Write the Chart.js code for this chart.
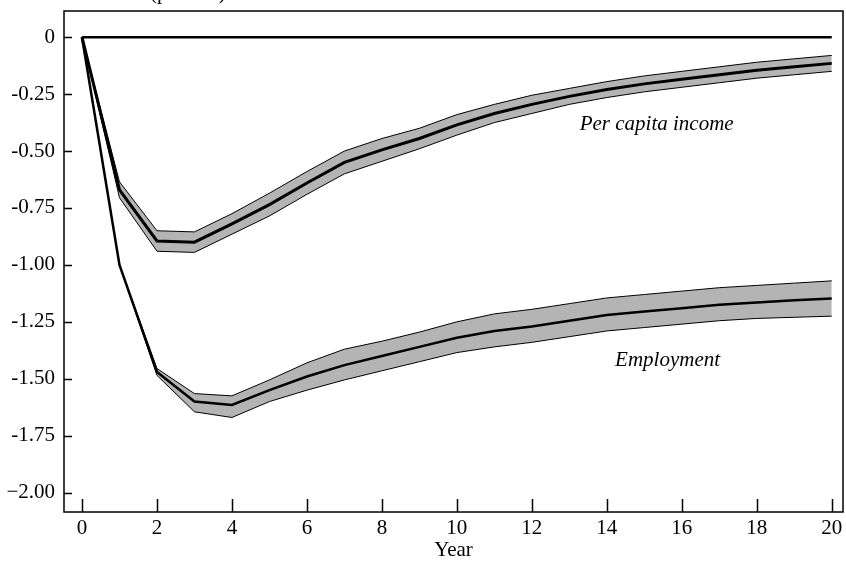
<!DOCTYPE html>
<html>
<head>
<meta charset="utf-8">
<script src="https://cdn.jsdelivr.net/npm/chart.js@4.4.0/dist/chart.umd.min.js"></script>
<style>
  html, body { margin: 0; padding: 0; background: #fff; }
  #wrap { width: 846px; height: 564px; position: relative; }
</style>
</head>
<body>
<div id="wrap"><canvas id="irf"></canvas></div>
<script>
const years = [0, 1, 2, 3, 4, 5, 6, 7, 8, 9, 10, 11, 12, 13, 14, 15, 16, 17, 18, 19, 20];

// Per capita income response and its band
const incomeMean  = [0, -0.67, -0.895, -0.90, -0.82, -0.735, -0.64, -0.55, -0.495, -0.445, -0.385, -0.335, -0.295, -0.26, -0.23, -0.205, -0.185, -0.165, -0.145, -0.13, -0.115];
const incomeUpper = [0, -0.635, -0.85, -0.855, -0.775, -0.685, -0.59, -0.50, -0.445, -0.40, -0.34, -0.295, -0.255, -0.225, -0.195, -0.17, -0.15, -0.13, -0.11, -0.095, -0.08];
const incomeLower = [0, -0.705, -0.94, -0.945, -0.865, -0.785, -0.69, -0.60, -0.545, -0.49, -0.43, -0.375, -0.335, -0.295, -0.265, -0.24, -0.22, -0.20, -0.18, -0.165, -0.15];

// Employment response and its band
const employMean  = [0, -1.00, -1.47, -1.60, -1.615, -1.55, -1.49, -1.44, -1.40, -1.36, -1.32, -1.29, -1.27, -1.245, -1.22, -1.205, -1.19, -1.175, -1.165, -1.155, -1.147];
const employUpper = [0, -1.00, -1.455, -1.565, -1.575, -1.505, -1.43, -1.37, -1.335, -1.295, -1.25, -1.215, -1.195, -1.17, -1.145, -1.13, -1.115, -1.10, -1.09, -1.08, -1.07];
const employLower = [0, -1.00, -1.485, -1.645, -1.67, -1.60, -1.55, -1.505, -1.465, -1.425, -1.385, -1.36, -1.34, -1.315, -1.29, -1.275, -1.26, -1.245, -1.235, -1.23, -1.225];

// baseline at zero
const zeroLine = [[0, 0], [20, 0]];

const xTickValues = [0, 2, 4, 6, 8, 10, 12, 14, 16, 18, 20];
const yTickValues = [0, -0.25, -0.5, -0.75, -1, -1.25, -1.5, -1.75, -2];
const yTickLabels = ['0', '-0.25', '-0.50', '-0.75', '-1.00', '-1.25', '-1.50', '-1.75', '\u22122.00'];

const serif = '"Liberation Serif", "DejaVu Serif", serif';

function pts(arr) {
    return years.map((x, i) => ({ x: x, y: arr[i] }));
}

const bandFill = '#b4b4b4';

const frame = {
    id: 'frame',
    afterDraw(chart) {
        const ctx = chart.ctx;
        const a = chart.chartArea;
        const xs = chart.scales.x, ys = chart.scales.y;
        ctx.save();
        ctx.strokeStyle = '#000';
        ctx.lineWidth = 1.5;
        ctx.strokeRect(a.left, a.top, a.right - a.left, a.bottom - a.top);
        ctx.beginPath();
        xTickValues.forEach(v => {
            const px = Math.round(xs.getPixelForValue(v)) + 0.5;
            ctx.moveTo(px, a.bottom);
            ctx.lineTo(px, a.bottom - 13);
        });
        yTickValues.forEach(v => {
            const py = Math.round(ys.getPixelForValue(v)) + 0.5;
            ctx.moveTo(a.left, py);
            ctx.lineTo(a.left + 8, py);
        });
        ctx.stroke();

        ctx.fillStyle = '#000';
        ctx.font = 'italic 21px ' + serif;
        ctx.textAlign = 'center';
        ctx.textBaseline = 'middle';
        ctx.fillText('Per capita income', xs.getPixelForValue(15.33), ys.getPixelForValue(-0.384));
        ctx.fillText('Employment', xs.getPixelForValue(15.62), ys.getPixelForValue(-1.42));

        // axis label cut off by the top edge
        ctx.font = '21px ' + serif;
        ctx.textAlign = 'left';
        ctx.textBaseline = 'alphabetic';
        ctx.fillText('(percent)', 150, -1);
        ctx.restore();
    }
};

const edge = { borderColor: '#000', borderWidth: 1, pointRadius: 0, tension: 0 };

new Chart(document.getElementById('irf'), {
    type: 'line',
    data: {
        datasets: [
            { label: 'zero', data: zeroLine.map(p => ({ x: p[0], y: p[1] })), borderColor: '#000', borderWidth: 2.5, pointRadius: 0, fill: false, order: 0 },
            Object.assign({ label: 'income lower', data: pts(incomeLower), fill: false, order: 2 }, edge),
            Object.assign({ label: 'income upper', data: pts(incomeUpper), fill: '-1', backgroundColor: bandFill, order: 2 }, edge),
            { label: 'Per capita income', data: pts(incomeMean), borderColor: '#000', borderWidth: 3, pointRadius: 0, fill: false, order: 0 },
            Object.assign({ label: 'employment lower', data: pts(employLower), fill: false, order: 2 }, edge),
            Object.assign({ label: 'employment upper', data: pts(employUpper), fill: '-1', backgroundColor: bandFill, order: 2 }, edge),
            { label: 'Employment', data: pts(employMean), borderColor: '#000', borderWidth: 2.5, pointRadius: 0, fill: false, order: 0 }
        ]
    },
    options: {
        responsive: true,
        maintainAspectRatio: false,
        animation: false,
        layout: { padding: { top: 11, right: 3, left: 0, bottom: 0 } },
        plugins: {
            legend: { display: false },
            tooltip: { enabled: false }
        },
        scales: {
            x: {
                type: 'linear',
                min: -0.48,
                max: 20.3,
                afterBuildTicks: s => { s.ticks = xTickValues.map(v => ({ value: v })); },
                afterFit: s => { s.height = 52; s.paddingLeft = 0; s.paddingRight = 0; },
                grid: { display: false },
                border: { display: false },
                ticks: { color: '#000', font: { family: serif, size: 21 }, padding: -4, maxRotation: 0, autoSkip: false },
                title: { display: true, text: 'Year', color: '#000', font: { family: serif, size: 21 }, padding: { top: 0, bottom: 1 } }
            },
            y: {
                type: 'linear',
                min: -2.085,
                max: 0.115,
                afterBuildTicks: s => { s.ticks = yTickValues.map(v => ({ value: v })); },
                afterFit: s => { s.width = 64; s.paddingTop = 0; s.paddingBottom = 0; },
                grid: { display: false },
                border: { display: false },
                ticks: {
                    color: '#000',
                    font: { family: serif, size: 21 },
                    padding: 1,
                    autoSkip: false,
                    callback: (v) => yTickLabels[yTickValues.indexOf(v)]
                }
            }
        }
    },
    plugins: [frame]
});
</script>
</body>
</html>
